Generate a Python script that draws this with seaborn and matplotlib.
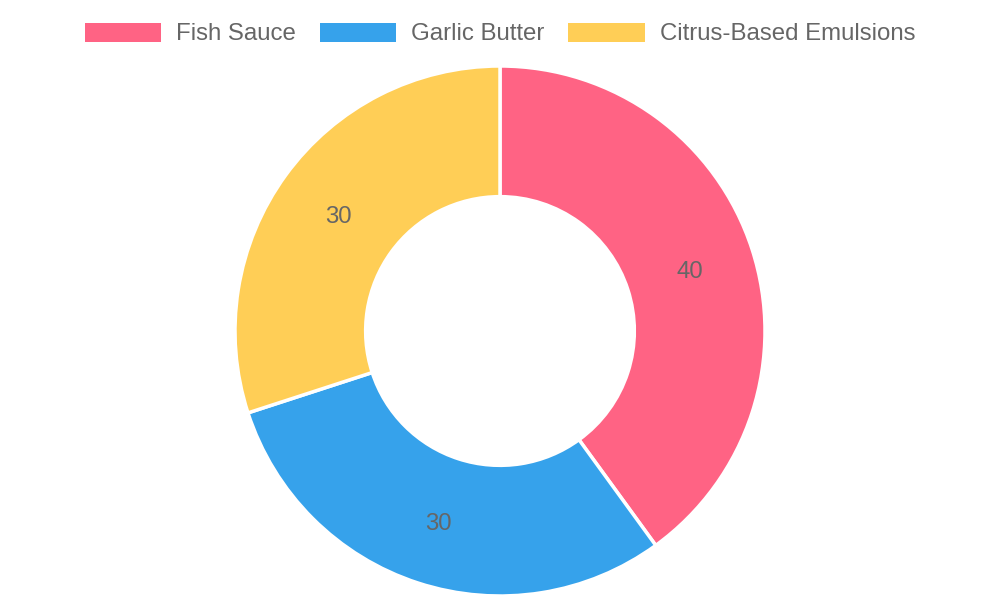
import matplotlib
matplotlib.use("Agg")
import matplotlib.pyplot as plt
import matplotlib.patches as mpatches
import matplotlib.transforms as mtransforms
import numpy as np
import seaborn as sns

# Data
categories = ["Fish Sauce", "Garlic Butter", "Citrus-Based Emulsions"]
values = [40, 30, 30]
colors = ["#FF6384", "#36A2EB", "#FFCE56"]

sns.set_theme(style="white")
plt.rcParams['font.family'] = ['Liberation Sans', 'DejaVu Sans']

W, H = 1000, 600
fig = plt.figure(figsize=(W / 100, H / 100), dpi=100)

# doughnut area: outer radius ~265 px, centre at (500, 331) from top
r_px = 265
cx, cy = 500, H - 331
ax = fig.add_axes([(cx - r_px) / W, (cy - r_px) / H, 2 * r_px / W, 2 * r_px / H])

inner = 0.507
wedges, _ = ax.pie(
    values, colors=colors, startangle=90, counterclock=False, radius=1.0,
    wedgeprops=dict(width=1 - inner, edgecolor="white", linewidth=2.5),
)
ax.set_xlim(-1, 1)
ax.set_ylim(-1, 1)
ax.set_aspect("equal")
ax.axis("off")

# value labels at middle of ring (nudged down a few px like the original)
total = sum(values)
start = 90.0
mid_r = (1 + inner) / 2
shift = mtransforms.offset_copy(ax.transData, fig=fig, x=0, y=-3, units="dots")
for v in values:
    span = 360.0 * v / total
    ang = np.deg2rad(start - span / 2)
    ax.text(mid_r * np.cos(ang), mid_r * np.sin(ang), str(v), transform=shift,
            ha="center", va="center", fontsize=17.3, color="#666666")
    start -= span

handles = [mpatches.Patch(facecolor=c, edgecolor="none", label=l) for c, l in zip(colors, categories)]
fig.legend(handles=handles, loc="center", bbox_to_anchor=(0.5, 1 - 34 / H), ncol=3,
           frameon=False, fontsize=17.3, labelcolor="#666666",
           handlelength=3.17, handleheight=0.84, handletextpad=0.62, columnspacing=1.0)

fig.savefig("out.png", dpi=100)
